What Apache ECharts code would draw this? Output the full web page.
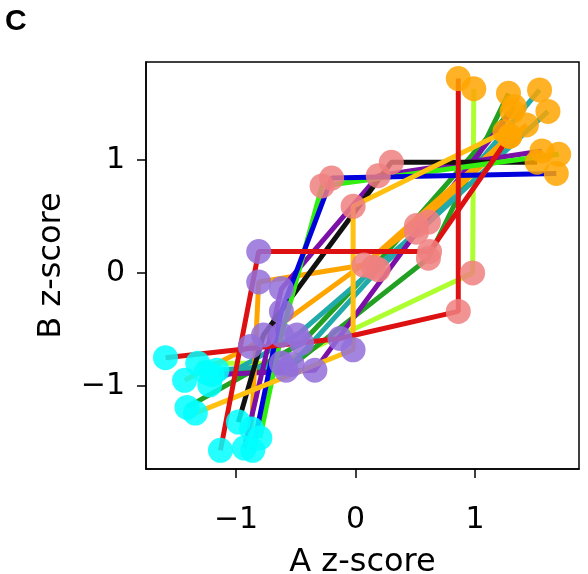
<!DOCTYPE html>
<html>
<head>
<meta charset="utf-8">
<script src="https://cdn.jsdelivr.net/npm/echarts@6/dist/echarts.min.js"></script>
<style>
html,body{margin:0;padding:0;background:#fff;}
#chart{width:588px;height:574px;}
</style>
</head>
<body>
<div id="chart"></div>
<script>
// Line colour of each subject (drawing order)
const lineColors = ['#adff2f','#22a022','#22a022','#20aaaa','#20aaaa','#7a10a8','#ffa500','#ffa500','#7a10a8','#111111','#33ee11','#0000dd','#ffc010','#dd1111','#dd1111'];
// Stage 1 (cyan) points per subject [A z, B z]
const cyanPts   = [[-1.32,-0.80],[-1.25,-0.88],[-1.41,-1.19],[-1.22,-0.99],[-1.16,-0.86],[-1.20,-0.90],[-1.43,-0.95],[-0.87,-1.38],[-0.93,-1.55],[-0.98,-1.32],[-0.80,-1.46],[-0.86,-1.57],[-1.34,-1.24],[-1.13,-1.57],[-1.59,-0.75]];
// Stage 2 (purple) points
const purplePts = [[-0.62,-0.80],[-0.58,-0.86],[-0.45,-0.62],[-0.49,-0.55],[-0.53,-0.81],[-0.34,-0.86],[-0.88,-0.65],[-0.81,-0.08],[-0.62,-0.14],[-0.77,-0.55],[-0.62,-0.55],[-0.62,-0.34],[-0.02,-0.68],[-0.81,0.19],[-0.13,-0.58]];
// Stage 3 (salmon) points
const salmonPts = [[0.98,0.00],[0.61,0.13],[0.15,0.05],[0.61,0.45],[0.19,0.03],[0.51,0.36],[0.51,0.42],[0.07,0.07],[0.19,0.86],[0.30,0.98],[-0.28,0.77],[-0.20,0.84],[-0.02,0.59],[0.62,0.19],[0.86,-0.34]];
// Stage 4 (orange) points
const orangePts = [[0.99,1.63],[1.28,1.59],[1.33,1.47],[1.54,1.62],[1.61,1.43],[1.31,1.43],[1.43,1.31],[1.29,1.21],[1.56,1.08],[1.52,0.98],[1.70,1.05],[1.68,0.88],[1.25,1.25],[1.29,1.21],[0.86,1.72]];
const stageColors = ['#00ffff','#9370db','#f08080','#ffa500'];
const xTicks = [-1,0,1];
const yTicks = [-1,0,1];

const fmt = v => (v < 0 ? '\u2212' + Math.abs(v) : String(v));
const FONT = 'DejaVu Sans';

const series = lineColors.map((c, i) => ({
  type: 'line',
  data: [cyanPts[i], purplePts[i], salmonPts[i], orangePts[i]].map((p, k) => ({
    value: p,
    itemStyle: { color: stageColors[k], opacity: 0.85 }
  })),
  symbol: 'circle',
  symbolSize: 25,
  showSymbol: true,
  showAllSymbol: true,
  lineStyle: { color: c, width: 5 },
  itemStyle: { borderWidth: 0 },
  emphasis: { disabled: true },
  silent: true,
  animation: false
}));

const chart = echarts.init(document.getElementById('chart'), null, { renderer: 'canvas' });
chart.setOption({
  animation: false,
  backgroundColor: '#fff',
  title: {
    text: 'C', left: 0, top: 2,
    textStyle: { fontSize: 30, fontWeight: 'bold', fontFamily: 'Liberation Sans', color: '#000' }
  },
  grid: {
    left: 146, right: 9, top: 62, bottom: 105,
    outerBoundsMode: 'none', containLabel: false,
    show: true, borderColor: '#000', borderWidth: 1.5, backgroundColor: 'transparent'
  },
  xAxis: {
    type: 'value', min: -1.753, max: 1.870,
    name: 'A z-score', nameLocation: 'middle', nameGap: 78,
    nameTextStyle: { fontSize: 32, fontFamily: FONT, color: '#000' },
    axisLine: { show: true, onZero: false, lineStyle: { color: '#000', width: 1.5 } },
    axisTick: { show: true, customValues: xTicks, length: 9, lineStyle: { color: '#000', width: 1.5 } },
    axisLabel: { customValues: xTicks, formatter: fmt, fontSize: 30, fontFamily: FONT, color: '#000', margin: 36 },
    splitLine: { show: false }
  },
  yAxis: {
    type: 'value', min: -1.735, max: 1.867,
    name: 'B z-score', nameLocation: 'middle', nameGap: 78, nameRotate: 90,
    nameTextStyle: { fontSize: 32, fontFamily: FONT, color: '#000' },
    axisLine: { show: true, onZero: false, lineStyle: { color: '#000', width: 1.5 } },
    axisTick: { show: true, customValues: yTicks, length: 9, lineStyle: { color: '#000', width: 1.5 } },
    axisLabel: { customValues: yTicks, formatter: fmt, fontSize: 30, fontFamily: FONT, color: '#000', margin: 21 },
    splitLine: { show: false }
  },
  series: series
});
</script>
</body>
</html>
